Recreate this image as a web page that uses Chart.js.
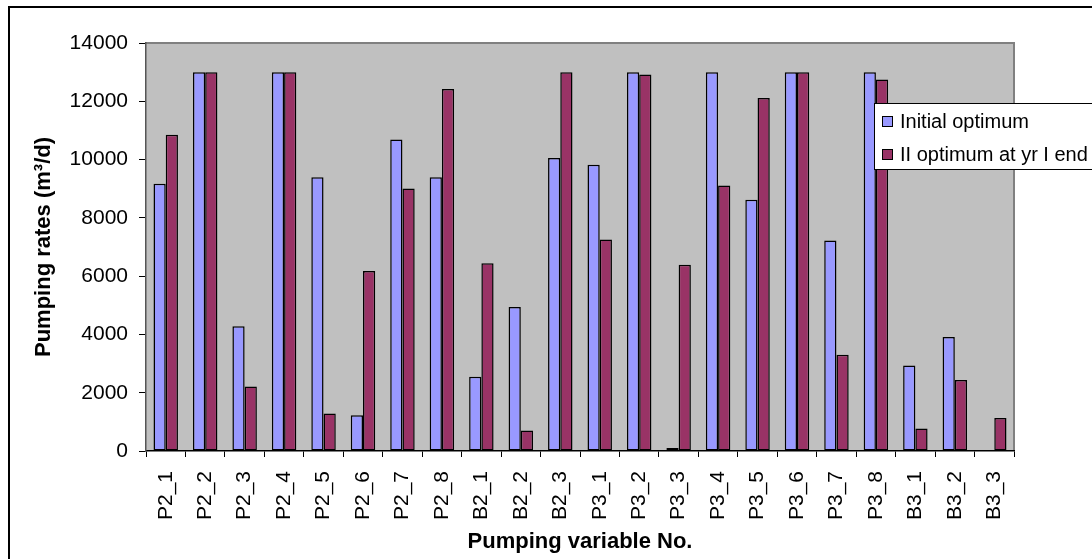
<!DOCTYPE html>
<html>
<head>
<meta charset="utf-8">
<script src="https://cdn.jsdelivr.net/npm/chart.js@4/dist/chart.umd.min.js"></script>
<style>
  html, body { margin: 0; padding: 0; background: #fff; }
  canvas { display: block; }
</style>
</head>
<body>
<canvas id="c" width="1092" height="559"></canvas>
<script>
// Pumping variables
const categories = ['P2_1','P2_2','P2_3','P2_4','P2_5','P2_6','P2_7','P2_8',
  'B2_1','B2_2','B2_3','P3_1','P3_2','P3_3','P3_4','P3_5','P3_6','P3_7','P3_8',
  'B3_1','B3_2','B3_3'];

// Pumping rates (m3/d)
const initialOptimum = [9170, 13000, 4280, 13000, 9390, 1230, 10690, 9390,
  2550, 4940, 10050, 9820, 13000, 100, 13000, 8620, 13000, 7220, 13000,
  2930, 3910, 0];
const secondOptimum = [10850, 13000, 2210, 13000, 1290, 6180, 9010, 12420,
  6440, 700, 13000, 7260, 12920, 6390, 9110, 12110, 13000, 3300, 12750,
  770, 2440, 1130];

const seriesNames = ['Initial optimum', 'II optimum at yr I end'];
const yTicks = [0, 2000, 4000, 6000, 8000, 10000, 12000, 14000];

const FONT = 'Liberation Sans, Arial, sans-serif';

// Page frame and grey plot background
const framePlugin = {
  id: 'frame',
  beforeDraw(chart) {
    const { ctx, chartArea: a } = chart;
    ctx.save();
    ctx.fillStyle = '#ffffff';
    ctx.fillRect(0, 0, chart.width, chart.height);
    ctx.strokeStyle = '#000000';
    ctx.lineWidth = 2;
    ctx.strokeRect(9, 7, chart.width + 20, chart.height + 20);
    ctx.fillStyle = '#c0c0c0';
    ctx.fillRect(a.left, a.top, a.right - a.left, a.bottom - a.top);
    ctx.strokeStyle = '#808080';
    ctx.lineWidth = 2;
    ctx.beginPath();
    ctx.moveTo(a.left, a.top);
    ctx.lineTo(a.right, a.top);
    ctx.lineTo(a.right, a.bottom);
    ctx.stroke();
    ctx.restore();
  }
};

// Boxed legend overlapping the right side of the plot
const legendBoxPlugin = {
  id: 'legendBox',
  afterDraw(chart) {
    const { ctx } = chart;
    const x = 874, y = 103, w = 240, h = 66;
    ctx.save();
    ctx.fillStyle = '#ffffff';
    ctx.fillRect(x, y, w, h);
    ctx.strokeStyle = '#000000';
    ctx.lineWidth = 1;
    ctx.strokeRect(x + 0.5, y + 0.5, w, h);
    ctx.font = '20px ' + FONT;
    ctx.textBaseline = 'middle';
    chart.data.datasets.forEach((ds, i) => {
      const cy = y + 18 + i * 33;
      ctx.fillStyle = ds.backgroundColor;
      ctx.fillRect(882, cy - 5, 11, 11);
      ctx.strokeStyle = '#000000';
      ctx.strokeRect(882.5, cy - 4.5, 10, 10);
      ctx.fillStyle = '#000000';
      ctx.fillText(ds.label, 900, cy + 1);
    });
    ctx.restore();
  }
};

new Chart(document.getElementById('c'), {
  type: 'bar',
  data: {
    labels: categories,
    datasets: [
      { label: seriesNames[0], data: initialOptimum, backgroundColor: '#9999ff',
        borderColor: '#000000', borderWidth: 1.5, borderSkipped: false },
      { label: seriesNames[1], data: secondOptimum, backgroundColor: '#993366',
        borderColor: '#000000', borderWidth: 1.5, borderSkipped: false }
    ]
  },
  options: {
    responsive: false,
    devicePixelRatio: 1,
    animation: false,
    layout: { padding: { left: 0, top: 43, right: 78, bottom: 0 } },
    datasets: { bar: { categoryPercentage: 0.62, barPercentage: 1.0 } },
    plugins: { legend: { display: false }, tooltip: { enabled: false } },
    scales: {
      x: {
        grid: { offset: true, drawOnChartArea: false, tickLength: 6, color: '#000000', lineWidth: 1 },
        border: { color: '#000000', width: 1.5 },
        ticks: {
          color: '#000000', font: { family: FONT, size: 21 },
          minRotation: 90, maxRotation: 90, autoSkip: false, padding: 14
        },
        title: {
          display: true, text: 'Pumping variable No.', color: '#000000',
          font: { family: FONT, size: 22, weight: 'bold' }, padding: { top: 0, bottom: 4 }
        },
        afterFit(scale) { scale.height = 108; }
      },
      y: {
        min: 0, max: 14000,
        afterBuildTicks(scale) { scale.ticks = yTicks.map(v => ({ value: v })); },
        grid: { drawOnChartArea: false, tickLength: 7, color: '#000000', lineWidth: 1 },
        border: { color: '#555555', width: 1.5 },
        ticks: {
          color: '#000000', font: { family: FONT, size: 21 }, padding: 11,
          callback: v => String(v)
        },
        title: {
          display: true, text: 'Pumping rates (m³/d)', color: '#000000',
          font: { family: FONT, size: 22, weight: 'bold' }, padding: { top: 31, bottom: 0 }
        },
        afterFit(scale) { scale.width = 146; }
      }
    }
  },
  plugins: [framePlugin, legendBoxPlugin]
});
</script>
</body>
</html>
